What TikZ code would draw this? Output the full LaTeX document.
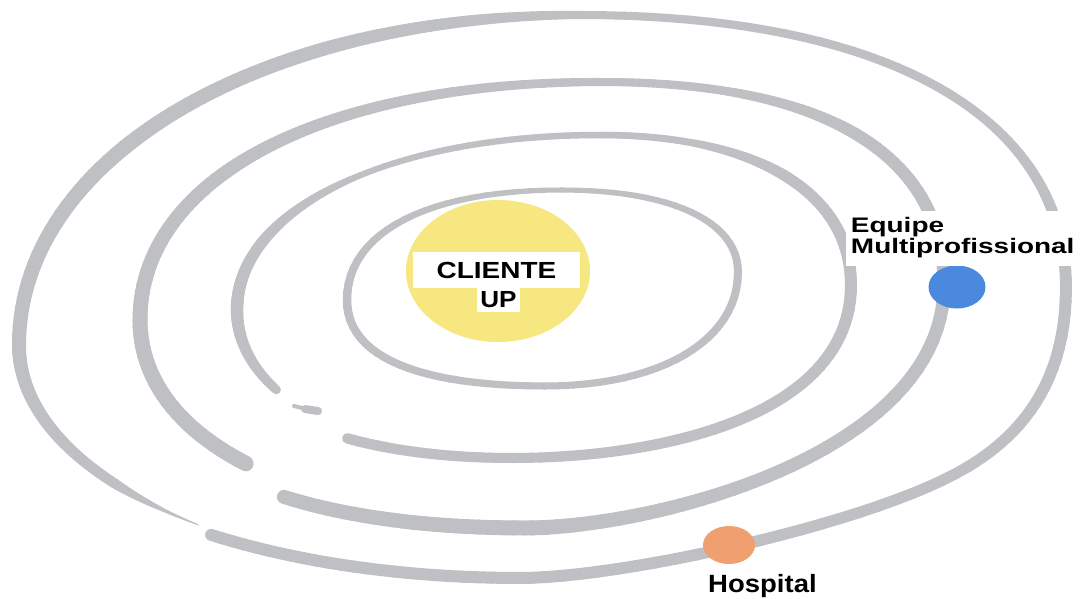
\documentclass[tikz,border=0pt]{standalone}
\usepackage{fontspec}
\setmainfont{Liberation Sans}
\usepackage{graphicx}
\usetikzlibrary{shapes.geometric}
\definecolor{orbit}{RGB}{190,192,195}
\definecolor{sun}{RGB}{247,231,128}
\definecolor{bluedot}{RGB}{74,137,221}
\definecolor{orangedot}{RGB}{240,160,112}
% one piece of an orbit: a cubic curve, drawn in short round-capped pieces
% so that its width can change smoothly along it
\pgfkeys{
 /orb/.is family,
 /orb/from/.code args={#1,#2}{\def\oAx{#1}\def\oAy{#2}},
 /orb/to/.code args={#1,#2}{\def\oBx{#1}\def\oBy{#2}},
 /orb/c1/.code args={#1,#2}{\def\oCx{#1}\def\oCy{#2}\def\otype{2}},
 /orb/c2/.code args={#1,#2}{\def\oDx{#1}\def\oDy{#2}},
 /orb/side/.code={\def\otype{0}},
 /orb/cap/.code={\def\otype{1}},
 /orb/k/.code args={#1,#2}{\def\okA{#1}\def\okB{#2}},
 /orb/s/.code args={#1,#2}{\def\osA{#1}\def\osB{#2}},
 /orb/w/.code args={#1,#2}{\def\owA{#1}\def\owB{#2}},
}
\def\oN{24}
\newcommand\orb[1]{%
  \pgfqkeys{/orb}{#1}%
  \ifnum\otype=0\relax
    \pgfmathsetmacro\oPx{\oAx}%
    \pgfmathsetmacro\oPy{\oAy+\okA*(\oBy-\oAy)}%
    \pgfmathsetmacro\oQx{\oBx+\okB*(\oAx-\oBx)}%
    \pgfmathsetmacro\oQy{\oBy}%
  \else\ifnum\otype=1\relax
    \pgfmathsetmacro\oPx{\oAx+\okA*(\oBx-\oAx)}%
    \pgfmathsetmacro\oPy{\oAy}%
    \pgfmathsetmacro\oQx{\oBx}%
    \pgfmathsetmacro\oQy{\oBy+\okB*(\oAy-\oBy)}%
  \else
    \edef\oPx{\oCx}\edef\oPy{\oCy}\edef\oQx{\oDx}\edef\oQy{\oDy}%
  \fi\fi
  \foreach \j in {1,...,\oN}{%
    \pgfmathsetmacro\ta{\osA+(\osB-\osA)*(\j-1)/\oN}%
    \pgfmathsetmacro\tb{\osA+(\osB-\osA)*\j/\oN}%
    \pgfmathsetmacro\ua{1-\ta}%
    \pgfmathsetmacro\ub{1-\tb}%
    \pgfmathsetmacro\xa{\ua*\ua*\ua*\oAx+3*\ua*\ua*\ta*\oPx+3*\ua*\ta*\ta*\oQx+\ta*\ta*\ta*\oBx}%
    \pgfmathsetmacro\ya{\ua*\ua*\ua*\oAy+3*\ua*\ua*\ta*\oPy+3*\ua*\ta*\ta*\oQy+\ta*\ta*\ta*\oBy}%
    \pgfmathsetmacro\xb{\ub*\ub*\ub*\oAx+3*\ub*\ub*\tb*\oPx+3*\ub*\tb*\tb*\oQx+\tb*\tb*\tb*\oBx}%
    \pgfmathsetmacro\yb{\ub*\ub*\ub*\oAy+3*\ub*\ub*\tb*\oPy+3*\ub*\tb*\tb*\oQy+\tb*\tb*\tb*\oBy}%
    \pgfmathsetmacro\ww{\owA+(\owB-\owA)*(\j-0.5)/\oN}%
    \draw[orbitline, line width=\ww pt] (\xa,\ya) -- (\xb,\yb);
  }%
}
\begin{document}
\begin{tikzpicture}[x=1pt,y=-1pt,
  orbitline/.style={draw=orbit, line cap=round, line join=round},
  whitebox/.style={fill=white, inner sep=0pt},
  planet/.style={ellipse, inner sep=0pt}]
\useasboundingbox[fill=white] (0,0) rectangle (1085,598);

% ---------- outer orbit: L(19,345) T(580,15) R(1066,288) B(520,578) ----------
\orb{from={0,352}, to={520,578}, side, k={0.56,0.56}, s={0.6,1}, w={12,12}}
\orb{from={520,578}, to={955,474}, c1={620,578}, c2={858,526}, s={0,1}, w={12,11}}
\orb{from={955,474}, to={1066,288}, c1={1008,446}, c2={1066,395}, s={0,1}, w={11,12}}
\orb{from={1066,288}, to={580,15}, side, k={0.63,0.63}, s={0,0.4}, w={12,9}}
\orb{from={1066,288}, to={580,15}, side, k={0.63,0.63}, s={0.4,1}, w={9,8}}
\orb{from={580,15}, to={19,345}, cap, k={0.57,0.57}, s={0,0.12}, w={8,11}}
\orb{from={580,15}, to={19,345}, cap, k={0.57,0.57}, s={0.12,0.3}, w={11,13.5}}
\orb{from={580,15}, to={19,345}, cap, k={0.57,0.57}, s={0.3,0.6}, w={13.5,15}}
\orb{from={580,15}, to={19,345}, cap, k={0.57,0.57}, s={0.6,1}, w={15,14}}
\orb{from={19,345}, to={520,578}, side, k={0.56,0.56}, s={0,0.2}, w={14,12}}
\orb{from={19,345}, to={520,578}, side, k={0.56,0.56}, s={0.2,0.4}, w={12,10}}
\orb{from={19,345}, to={520,578}, side, k={0.56,0.56}, s={0.4,0.5}, w={10,3.5}}
\orb{from={19,345}, to={520,578}, side, k={0.56,0.56}, s={0.5,0.56}, w={3.5,1}}

% ---------- second orbit: L(140,320) T(600,82) R(944,285) B(525,528) ----------
\orb{from={120,330}, to={525,528}, side, k={0.62,0.62}, s={0.62,1}, w={14,15}}
\orb{from={525,528}, to={944,285}, cap, k={0.3,0.7}, s={0,0.45}, w={15,13}}
\orb{from={525,528}, to={944,285}, cap, k={0.3,0.7}, s={0.45,1}, w={13,13}}
\orb{from={944,285}, to={600,82}, side, k={0.65,0.65}, s={0,0.5}, w={13,12}}
\orb{from={944,285}, to={600,82}, side, k={0.65,0.65}, s={0.5,0.8}, w={12,8.5}}
\orb{from={944,285}, to={600,82}, side, k={0.65,0.65}, s={0.8,1}, w={8.5,8}}
\orb{from={600,82}, to={140,320}, cap, k={0.6,0.6}, s={0,0.33}, w={8,11}}
\orb{from={600,82}, to={140,320}, cap, k={0.6,0.6}, s={0.33,0.6}, w={11,13.5}}
\orb{from={600,82}, to={140,320}, cap, k={0.6,0.6}, s={0.6,1}, w={13.5,15}}
\orb{from={140,320}, to={525,518}, side, k={0.6,0.6}, s={0,0.5}, w={15,15.5}}

% ---------- third orbit: L(237,310) T(600,135) R(851,285) B(512,458) ----------
\orb{from={215,320}, to={512,458}, side, k={0.6,0.6}, s={0.645,1}, w={10.5,10}}
\orb{from={512,458}, to={851,285}, cap, k={0.45,0.75}, s={0,0.5}, w={10,11}}
\orb{from={512,458}, to={851,285}, cap, k={0.45,0.75}, s={0.5,1}, w={11,12}}
\orb{from={851,285}, to={600,135}, side, k={0.62,0.62}, s={0,0.5}, w={12,11}}
\orb{from={851,285}, to={600,135}, side, k={0.62,0.62}, s={0.5,0.8}, w={11,7}}
\orb{from={851,285}, to={600,135}, side, k={0.62,0.62}, s={0.8,1}, w={7,6.5}}
\orb{from={600,135}, to={237,310}, cap, k={0.58,0.58}, s={0,0.45}, w={6.5,6}}
\orb{from={600,135}, to={237,310}, cap, k={0.58,0.58}, s={0.45,0.75}, w={6,11}}
\orb{from={600,135}, to={237,310}, cap, k={0.58,0.58}, s={0.75,1}, w={11,12.5}}
\orb{from={237,310}, to={512,458}, side, k={0.58,0.58}, s={0,0.35}, w={12.5,9}}
\draw[orbitline, line width=4pt] (294,406) -- (306,409);
\draw[orbitline, line width=8pt] (305,409) -- (318,411);

% ---------- inner orbit: L(347,300) T(562,190) R(738,272) B(545,386) ----------
\orb{from={738,272}, to={562,190}, side, k={0.62,0.62}, s={0,1}, w={8,5}}
\orb{from={562,190}, to={347,300}, cap, k={0.62,0.62}, s={0,1}, w={5,8.5}}
\orb{from={347,300}, to={545,386}, side, k={0.68,0.62}, s={0,1}, w={8.5,7}}
\orb{from={545,386}, to={738,272}, cap, k={0.6,0.6}, s={0,1}, w={7,8}}

% ---------- bodies ----------
\node[planet, fill=sun, minimum width=184pt, minimum height=142pt] (sunbody) at (498,271) {};
\node[planet, fill=bluedot, minimum width=57pt, minimum height=43pt] (equipedot) at (957,287) {};
\node[planet, fill=orangedot, minimum width=52pt, minimum height=38pt] (hospitaldot) at (729,545) {};

% ---------- labels ----------
\node[whitebox, minimum width=167pt, minimum height=36pt] (cliente) at (496.5,270)
 {\fontsize{23.3}{24}\selectfont\bfseries\scalebox{1.2}[1]{CLIENTE}};
\node[whitebox, minimum width=43pt, minimum height=24pt] (up) at (498.5,300)
 {\fontsize{23.3}{24}\selectfont\bfseries\scalebox{1.12}[1]{UP}};
\node[whitebox, anchor=north west, minimum width=233pt, minimum height=54pt,
      inner xsep=2pt, inner ysep=6pt, align=left] (equipe) at (846,211)
 {\fontsize{21}{21}\selectfont\bfseries\scalebox{1.33}[1]{\begin{tabular}{@{}l@{}}Equipe\\Multiprofissional\end{tabular}}};
\node[anchor=base west, inner sep=0pt] (hospital) at (708,592)
 {\fontsize{25}{25}\selectfont\bfseries\scalebox{1.1}[1]{Hospital}};
\end{tikzpicture}
\end{document}
